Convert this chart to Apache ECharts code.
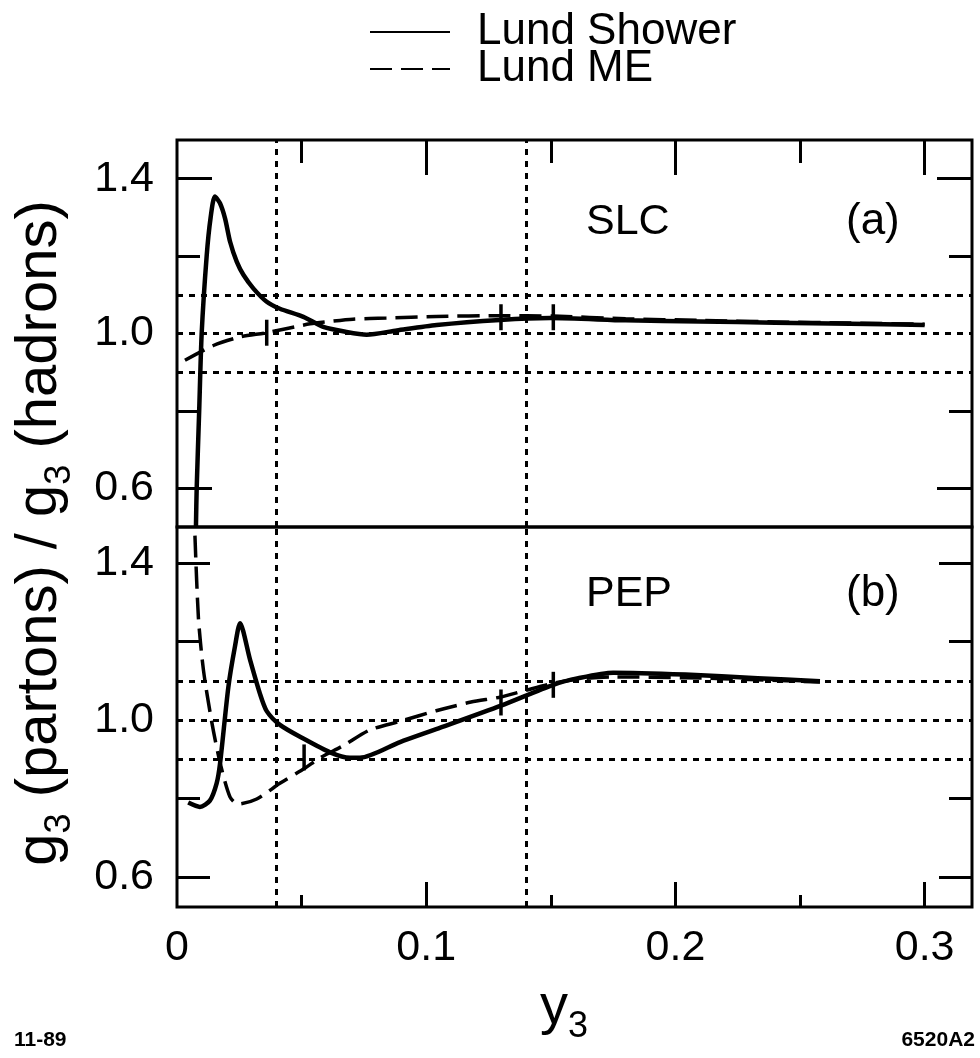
<!DOCTYPE html>
<html>
<head>
<meta charset="utf-8">
<title>g3 (partons) / g3 (hadrons)</title>
<script src="https://cdn.jsdelivr.net/npm/echarts@6/dist/echarts.min.js"></script>
<style>
  html, body { margin: 0; padding: 0; background: #fff; }
  #chart { width: 980px; height: 1058px; }
</style>
</head>
<body>
<div id="chart"></div>
<script>
// values (y3 on x, parton/hadron ratio on y)
const slcShowerX = [0.0076, 0.0079, 0.0089, 0.0099, 0.0119, 0.0135, 0.0152, 0.0173, 0.0193, 0.0213, 0.024, 0.0267, 0.0307, 0.036, 0.0413, 0.0507, 0.0587, 0.068, 0.0761, 0.0882, 0.1042, 0.1296, 0.1497, 0.18, 0.21, 0.24, 0.27, 0.30];
const slcShowerY = [0.5, 0.6, 0.8, 1.0, 1.2, 1.3, 1.354, 1.336, 1.297, 1.237, 1.185, 1.151, 1.116, 1.082, 1.064, 1.043, 1.017, 1.004, 0.997, 1.008, 1.022, 1.035, 1.04, 1.034, 1.031, 1.028, 1.025, 1.022];

const slcMeX = [0.0032, 0.0146, 0.0253, 0.036, 0.0534, 0.061, 0.0706, 0.084, 0.104, 0.13, 0.151, 0.18, 0.21, 0.24, 0.27, 0.30];
const slcMeY = [0.931, 0.969, 0.991, 1.002, 1.025, 1.031, 1.037, 1.040, 1.044, 1.046, 1.045, 1.038, 1.034, 1.030, 1.027, 1.024];

const pepShowerX = [0.0045, 0.0092, 0.0132, 0.0159, 0.0173, 0.0206, 0.0233, 0.0253, 0.0293, 0.0333, 0.036, 0.0413, 0.0507, 0.0614, 0.0694, 0.0734, 0.0895, 0.104, 0.13, 0.151, 0.161, 0.175, 0.204, 0.233, 0.258];
const pepShowerY = [0.79, 0.779, 0.795, 0.839, 0.891, 1.084, 1.189, 1.247, 1.154, 1.067, 1.023, 0.988, 0.953, 0.918, 0.904, 0.904, 0.944, 0.977, 1.037, 1.09, 1.107, 1.121, 1.116, 1.107, 1.099];

const pepMeX = [0.0072, 0.0086, 0.0106, 0.0139, 0.0173, 0.0213, 0.0246, 0.032, 0.0413, 0.0514, 0.0574, 0.0667, 0.0774, 0.0895, 0.104, 0.118, 0.13, 0.14, 0.151, 0.161, 0.175, 0.204, 0.233, 0.258];
const pepMeY = [1.47, 1.26, 1.128, 0.997, 0.891, 0.804, 0.786, 0.799, 0.839, 0.878, 0.904, 0.935, 0.975, 0.997, 1.024, 1.046, 1.059, 1.076, 1.094, 1.105, 1.11, 1.108, 1.103, 1.097];

// little vertical bars drawn across the curves
const slcMarkX = [0.036, 0.13, 0.151];
const slcMarkY = [1.002, 1.042, 1.042];
const pepMarkX = [0.051, 0.13, 0.151];
const pepMarkY = [0.905, 1.045, 1.09];

// dotted reference lines
const refY = [0.9, 1.0, 1.1];
const refX = [0.04, 0.14];

// ticks and labels
const xLabels = [0, 0.1, 0.2, 0.3];
const xMajor = [0.1, 0.2, 0.3];
const xMinor = [0.05, 0.15, 0.25];
const yLabels = [0.6, 1.0, 1.4];
const yMajor = [0.6, 1.4];
const yMinor = [0.8, 1.2];

const FONT = '"Liberation Sans", Arial, Helvetica, sans-serif';
const zip = (xs, ys) => xs.map((x, i) => [x, ys[i]]);

const myChart = echarts.init(document.getElementById('chart'));

function xAx(grid, pos, ticks, len, labels) {
  return {
    type: 'value', gridIndex: grid, position: pos, min: 0, max: 0.319,
    axisLine: { show: false },
    splitLine: { show: false },
    axisTick: { show: true, inside: true, length: len, customValues: ticks, lineStyle: { color: '#000', width: 3 } },
    axisLabel: labels ? {
      show: true, customValues: labels, margin: 20, color: '#000', fontSize: 43, fontFamily: FONT,
      formatter: v => v === 0 ? '0' : v.toFixed(1)
    } : { show: false }
  };
}

function yAx(grid, pos, min, max, ticks, len, labels) {
  return {
    type: 'value', gridIndex: grid, position: pos, min: min, max: max,
    axisLine: { show: false },
    splitLine: { show: false },
    axisTick: { show: true, inside: true, length: len, customValues: ticks, lineStyle: { color: '#000', width: 3 } },
    axisLabel: labels ? {
      show: true, customValues: labels, margin: 23, color: '#000', fontSize: 43, fontFamily: FONT,
      formatter: v => v.toFixed(1)
    } : { show: false }
  };
}

const refLines = {
  silent: true,
  symbol: ['none', 'none'],
  label: { show: false },
  lineStyle: { color: '#000', type: [6, 6], width: 3 },
  data: refY.map(v => ({ yAxis: v })).concat(refX.map(v => ({ xAxis: v })))
};

function lineSeries(name, xi, yi, data, dashed) {
  return {
    name: name, type: 'line', xAxisIndex: xi, yAxisIndex: yi,
    data: data, symbol: 'none', smooth: 0.25,
    lineStyle: { color: '#000', width: dashed ? 3.5 : 4.5, type: dashed ? [22, 9] : 'solid' },
    itemStyle: { color: '#000' },
    z: 5
  };
}

function markSeries(xi, yi, data) {
  return {
    type: 'scatter', xAxisIndex: xi, yAxisIndex: yi, data: data,
    symbol: 'rect', symbolSize: [3.5, 26], itemStyle: { color: '#000', opacity: 1 }, silent: true, z: 6
  };
}

const sub = { fontSize: 36, lineHeight: 36, verticalAlign: 'bottom', fontFamily: FONT, fill: '#000' };

let option = {
  animation: false,
  backgroundColor: '#fff',
  legend: {
    data: ['Lund Shower', 'Lund ME'],
    orient: 'vertical', left: 364, top: 5,
    itemWidth: 80, itemHeight: 14, itemGap: -7,
    selectedMode: false,
    itemStyle: { opacity: 0, borderWidth: 0 },
    textStyle: { color: '#000', fontSize: 44, fontFamily: FONT, padding: [0, 0, 0, 22] }
  },
  grid: [
    { left: 177, top: 140, width: 795, height: 387, show: true, borderColor: '#000', borderWidth: 3, backgroundColor: 'transparent' },
    { left: 177, top: 527, width: 795, height: 380, show: true, borderColor: '#000', borderWidth: 3, backgroundColor: 'transparent' }
  ],
  xAxis: [
    xAx(0, 'top', xMajor, 35, null),
    xAx(0, 'top', xMinor, 23, null),
    xAx(1, 'bottom', xMajor, 25, xLabels),
    xAx(1, 'bottom', xMinor, 12, null)
  ],
  yAxis: [
    yAx(0, 'left', 0.5, 1.5, yMajor, 35, yLabels),
    yAx(0, 'left', 0.5, 1.5, yMinor, 23, null),
    yAx(0, 'right', 0.5, 1.5, yMajor, 35, null),
    yAx(0, 'right', 0.5, 1.5, yMinor, 23, null),
    yAx(1, 'left', 0.524, 1.492, yMajor, 33, yLabels),
    yAx(1, 'left', 0.524, 1.492, yMinor, 23, null),
    yAx(1, 'right', 0.524, 1.492, yMajor, 33, null),
    yAx(1, 'right', 0.524, 1.492, yMinor, 23, null)
  ],
  series: [
    Object.assign(lineSeries('Lund Shower', 0, 0, zip(slcShowerX, slcShowerY), false), { markLine: refLines }),
    lineSeries('Lund ME', 0, 0, zip(slcMeX, slcMeY), true),
    markSeries(0, 0, zip(slcMarkX, slcMarkY)),
    Object.assign(lineSeries('Lund Shower', 2, 4, zip(pepShowerX, pepShowerY), false), { markLine: refLines }),
    lineSeries('Lund ME', 2, 4, zip(pepMeX, pepMeY), true),
    markSeries(2, 4, zip(pepMarkX, pepMarkY))
  ],
  graphic: [
    { type: 'text', x: 586, y: 222, style: { text: 'SLC', font: '43px ' + FONT, fill: '#000', verticalAlign: 'middle' } },
    { type: 'text', x: 846, y: 222, style: { text: '(a)', font: '44px ' + FONT, fill: '#000', verticalAlign: 'middle' } },
    { type: 'text', x: 586, y: 594, style: { text: 'PEP', font: '43px ' + FONT, fill: '#000', verticalAlign: 'middle' } },
    { type: 'text', x: 846, y: 594, style: { text: '(b)', font: '44px ' + FONT, fill: '#000', verticalAlign: 'middle' } },
    {
      type: 'text', x: 40, y: 533, rotation: Math.PI / 2,
      style: {
        text: '{m|g}{s|3}{m| (partons) / g}{s|3}{m| (hadrons)}',
        align: 'center', verticalAlign: 'middle',
        rich: { m: { fontSize: 58, lineHeight: 76, fontFamily: FONT, fill: '#000' }, s: sub }
      }
    },
    {
      type: 'text', x: 564, y: 1008,
      style: {
        text: '{m|y}{s|3}',
        align: 'center', verticalAlign: 'middle',
        rich: { m: { fontSize: 56, lineHeight: 74, fontFamily: FONT, fill: '#000' }, s: sub }
      }
    },
    { type: 'text', x: 14, y: 1040, style: { text: '11-89', font: 'bold 21px "Liberation Sans Narrow", ' + FONT, fill: '#000', verticalAlign: 'middle' } },
    { type: 'text', x: 975, y: 1040, style: { text: '6520A2', font: 'bold 21px "Liberation Sans Narrow", ' + FONT, fill: '#000', align: 'right', verticalAlign: 'middle' } }
  ]
};

option && myChart.setOption(option);
</script>
</body>
</html>
